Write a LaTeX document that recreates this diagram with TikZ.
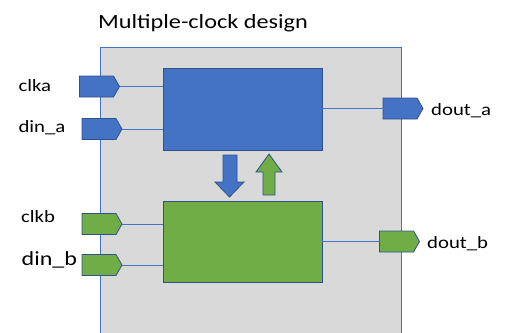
\documentclass[tikz,border=0pt]{standalone}
\usepackage{fontspec}
\setmainfont{Carlito}[FakeStretch=1.2]
\definecolor{fillblue}{HTML}{4472C4}
\definecolor{fillgreen}{HTML}{70AD47}
\definecolor{edgedark}{HTML}{2F528F}
\definecolor{wireblue}{HTML}{4472C4}
\definecolor{chipgray}{HTML}{D9D9D9}
% a pentagonal I/O port: invisible box node plus its outline
\newcommand{\ioport}[4]{%
  \node[portbox] (#1) at (#2) {};
  \draw[portedge, fill=#3] (#1.south west) -- (#1.north west)
    -- ([xshift=-#4]#1.north east) -- (#1.east)
    -- ([xshift=-#4]#1.south east) -- cycle;}
\begin{document}
\begin{tikzpicture}[x=1pt,y=-1pt,
  block/.style={draw=edgedark, line width=0.9pt, inner sep=0pt, minimum width=159pt},
  portbox/.style={inner sep=0pt, outer sep=0pt, minimum height=21pt, minimum width=40pt},
  portedge/.style={draw=edgedark, line width=0.8pt},
  wire/.style={draw=wireblue, line width=0.9pt},
  lbl/.style={anchor=base west, inner sep=0pt, font=\fontsize{17.3}{20}\selectfont},
  blockarrow/.style={draw=edgedark, line width=0.8pt}]
\useasboundingbox (0,0) rectangle (508,332);

% enclosing design boundary
\path[fill=chipgray] (100,47) rectangle (401,340);
\draw[draw=wireblue, line width=0.9pt] (100,340) -- (100,47) -- (401,47) -- (401,340);

\node[anchor=base west, inner sep=0pt, font=\fontsize{20.2}{24}\selectfont] (title) at (98,28) {Multiple-clock design};

% clock domains
\node[block, fill=fillblue, minimum height=82pt] (doma) at (242.5,109) {};
\node[block, fill=fillgreen, minimum height=81pt] (domb) at (242.5,241.5) {};

% ports
\ioport{clka}{99.5,86.5}{fillblue}{6pt}
\ioport{dina}{102,129}{fillblue}{6pt}
\ioport{clkb}{102,224}{fillgreen}{6pt}
\ioport{dinb}{102,265}{fillgreen}{6pt}
\ioport{douta}{403,108.5}{fillblue}{6pt}
\ioport{doutb}{399.5,241.5}{fillgreen}{6pt}

% port labels
\node[lbl] (lclka) at (18.3,91.3) {clka};
\node[lbl] (ldina) at (18.3,132) {din\_a};
\node[lbl] (lclkb) at (21,222.3) {clkb};
\node[lbl, font=\fontsize{20}{24}\selectfont] (ldinb) at (21.5,265) {din\_b};
\node[lbl] (ldouta) at (431,115) {dout\_a};
\node[lbl] (ldoutb) at (427,248) {dout\_b};

% wires
\draw[wire] (clka.east) -- (clka.east -| doma.west);
\draw[wire] (dina.east) -- (dina.east -| doma.west);
\draw[wire] (clkb.east) -- (clkb.east -| domb.west);
\draw[wire] (dinb.east) -- (dinb.east -| domb.west);
\draw[wire] (douta.west -| doma.east) -- (douta.west);
\draw[wire] (doutb.west -| domb.east) -- (doutb.west);

% crossing arrows between domains
\draw[blockarrow, fill=fillblue] (223,155) -- (237,155) -- (237,182) -- (244,182)
  -- (229.5,197) -- (215,182) -- (223,182) -- cycle;
\draw[blockarrow, fill=fillgreen] (263,195) -- (275,195) -- (275,172) -- (282,172)
  -- (269,154) -- (256,172) -- (263,172) -- cycle;
\end{tikzpicture}
\end{document}
